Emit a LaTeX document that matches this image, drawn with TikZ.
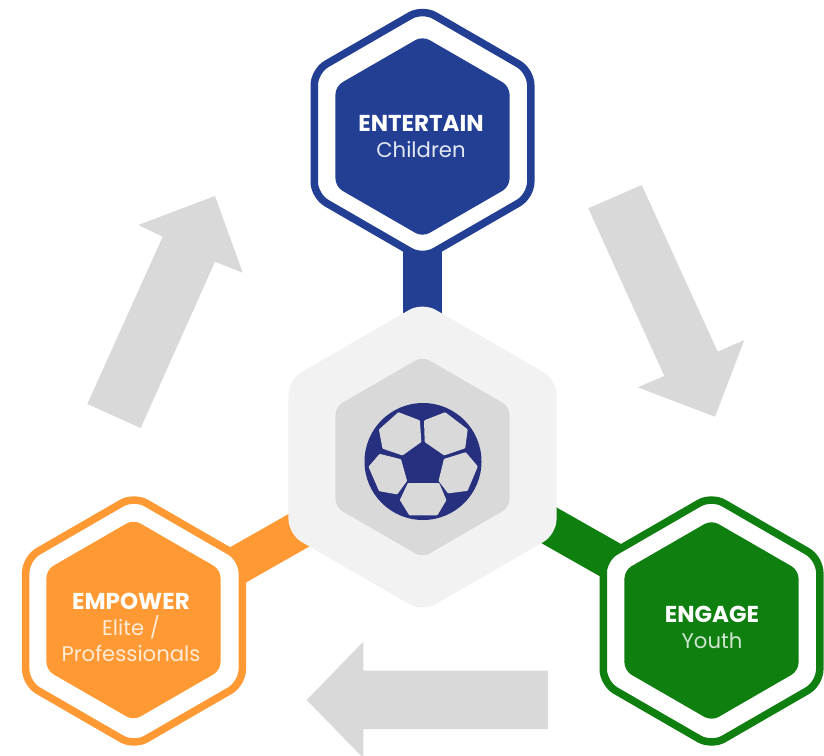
\documentclass[tikz,border=0pt]{standalone}
\usepackage{fontspec}
\setmainfont{Poppins}
\usetikzlibrary{shapes.geometric,backgrounds,calc}
\definecolor{bluec}{HTML}{233F94}
\definecolor{greenc}{HTML}{0F7F10}
\definecolor{orangec}{HTML}{FF9933}
\definecolor{hubc}{HTML}{F2F2F2}
\definecolor{greyc}{HTML}{D9D9D9}
\definecolor{ballc}{HTML}{27307F}
\newcommand{\headtxt}[1]{{\fontsize{23}{26}\selectfont\bfseries #1}}
\newcommand{\subtxt}[1]{{\fontsize{21.2}{26}\selectfont #1}}
\tikzset{
  x=1pt,y=-1pt,
  hexa/.style={regular polygon,regular polygon sides=6,shape border rotate=30,inner sep=0pt,outer sep=0pt},
  ring/.style={hexa,draw=#1,line width=7.5pt,fill=white,minimum size=250pt,rounded corners=14pt},
  core/.style={hexa,fill=#1,minimum size=201pt,rounded corners=8pt},
  huboutline/.style={hexa,fill=hubc,minimum size=309.5pt,rounded corners=15pt},
  band/.style={draw=#1,line width=38.5pt},
  flow/.style={fill=greyc},
  patch/.style={fill=greyc,draw=greyc,line width=2.6pt,line join=round},
  caption/.style={align=center,inner sep=0pt,text=white,font=\fontsize{21}{26}\selectfont},
}
\begin{document}
\begin{tikzpicture}
\useasboundingbox (0,0) rectangle (824,755);
\node[huboutline] (hub) at (422.5,457) {};
\node[core=greyc] (hubcore) at (422.5,457) {};
\node[ring=bluec] (topring) at (422.5,133.5) {};
\node[core=bluec] (topcore) at (422.5,136.5) {};
\node[ring=orangec] (leftring) at (134,621) {};
\node[core=orangec] (leftcore) at (133.5,620) {};
\node[ring=greenc] (rightring) at (711.5,621) {};
\node[core=greenc] (rightcore) at (711.5,620.5) {};
\node[caption] (toplabel) at (421,137) {\headtxt{ENTERTAIN}\\\color{white!88!bluec}\subtxt{Children}};
\node[caption] (leftlabel) at (131,627.5) {\headtxt{EMPOWER}\\\color{white!80!orangec}\subtxt{Elite /}\\\color{white!80!orangec}\subtxt{Professionals}};
\node[caption] (rightlabel) at (712,627.5) {\headtxt{ENGAGE}\\\color{white!80!greenc}\subtxt{Youth}};
\begin{pgfonlayer}{background}
\fill[white] (0,0) rectangle (824,755);
\draw[band=bluec] (topring.center) -- (hub.center);
\draw[band=orangec] ($(leftring.center)+(0,3)$) -- ($(hub.center)+(0,3)$);
\draw[band=greenc] ($(rightring.center)+(0,-3.5)$) -- ($(hub.center)+(0,-3.5)$);
\end{pgfonlayer}
% grey flow arrows
\fill[flow] (215,196) -- (242.7,272.7) -- (215,261.7) -- (140.7,428) -- (87.3,404) -- (162.7,236.7) -- (138.3,225) -- cycle;
\fill[flow] (588.3,208.3) -- (641.7,185) -- (717.7,351.7) -- (744.3,340) -- (715,416.7) -- (637.7,387.3) -- (664.3,376) -- cycle;
\fill[flow] (306.7,700) -- (363.3,641.7) -- (363.3,670.7) -- (548,670.7) -- (548,729) -- (363.3,729) -- (363.3,758) -- cycle;
% football
\fill[ballc] (423,461.5) circle[radius=58.5];
\begin{scope}[shift={(355,395)},x=0.3333pt,y=-0.3333pt]
\path[patch] (131,56) -- (191,79) -- (195,139) -- (142,177) -- (86,158) -- (76,105) -- cycle;
\path[patch] (270,56) -- (211,79) -- (213,139) -- (268,177) -- (327,157) -- (334,105) -- cycle;
\path[patch] (75,181) -- (135,196) -- (152,257) -- (125,294) -- (75,285) -- (45,216) -- cycle;
\path[patch] (331,176) -- (270,195) -- (255,257) -- (281,291) -- (335,284) -- (364,215) -- cycle;
\path[patch] (161,268) -- (250,268) -- (270,315) -- (245,357) -- (165,357) -- (139,315) -- cycle;
\end{scope}
\end{tikzpicture}
\end{document}
